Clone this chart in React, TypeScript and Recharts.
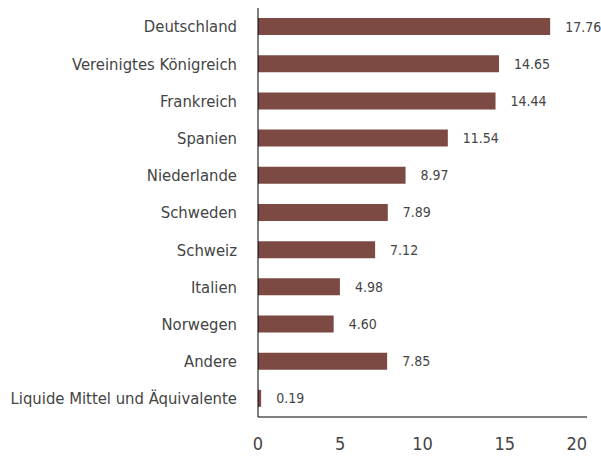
import { BarChart, Bar, XAxis, YAxis, LabelList } from "recharts";

const countries = [
  "Deutschland",
  "Vereinigtes Königreich",
  "Frankreich",
  "Spanien",
  "Niederlande",
  "Schweden",
  "Schweiz",
  "Italien",
  "Norwegen",
  "Andere",
  "Liquide Mittel und Äquivalente",
];
const weights = [17.76, 14.65, 14.44, 11.54, 8.97, 7.89, 7.12, 4.98, 4.6, 7.85, 0.19];
const xTicks = [0, 5, 10, 15, 20];

const data = countries.map((name, i) => ({ name, value: weights[i] }));

const FONT = "'DejaVu Sans Condensed', 'DejaVu Sans', sans-serif";
const TEXT = "#444444";
const BAR = "#7c4a42";

function XTick({ x, y, payload }: { x?: number; y?: number; payload?: { value: number } }) {
  const last = payload?.value === xTicks[xTicks.length - 1];
  return (
    <text
      x={x}
      y={y}
      dy="0.71em"
      textAnchor={last ? "end" : "middle"}
      fill={TEXT}
      fontSize={18}
      fontFamily={FONT}
    >
      {payload?.value}
    </text>
  );
}

export default function App() {
  return (
    <div style={{ position: "absolute", left: 0, top: 0, background: "#fff" }}>
      <BarChart
        width={601}
        height={457}
        data={data}
        layout="vertical"
        margin={{ top: 8, right: 14, bottom: 0, left: 0 }}
        barCategoryGap="27%"
      >
        <XAxis
          type="number"
          domain={[0, 20]}
          ticks={xTicks}
          height={40}
          axisLine={{ stroke: "#000", strokeWidth: 1 }}
          tickLine={false}
          tickSize={0}
          tickMargin={20}
          tick={<XTick />}
          interval={0}
        />
        <YAxis
          type="category"
          dataKey="name"
          width={258}
          axisLine={{ stroke: "#000", strokeWidth: 1 }}
          tickLine={false}
          tickSize={0}
          tickMargin={21}
          interval={0}
          tick={{ fill: TEXT, fontSize: 16.5, fontFamily: FONT }}
        />
        <Bar dataKey="value" fill={BAR} isAnimationActive={false}>
          <LabelList
            dataKey="value"
            position="right"
            offset={15}
            formatter={(v: number) => v.toFixed(2)}
            style={{ fill: TEXT, fontSize: 14, fontFamily: FONT }}
          />
        </Bar>
      </BarChart>
    </div>
  );
}
